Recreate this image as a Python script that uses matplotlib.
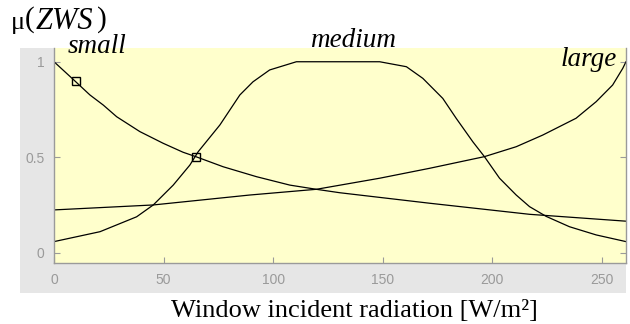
import matplotlib
matplotlib.use("Agg")
import matplotlib.pyplot as plt
from matplotlib.patches import Rectangle

# ---- data ----
small_x = [0, 9.1, 16.4, 22.5, 28.6, 39.2, 49.8, 58.9, 64.7, 77.2, 92.4, 107.6, 119.7,
           130.4, 171.4, 217, 261]
small_y = [1.0, 0.904, 0.826, 0.773, 0.712, 0.634, 0.573, 0.526, 0.503, 0.45, 0.398, 0.354, 0.332,
           0.314, 0.259, 0.201, 0.165]

medium_x = [0, 21, 37.7, 45.3, 54.4, 62, 65.8, 75.7, 84.8, 90.8, 98.4, 110.6, 148.6,
            160.8, 168.3, 177.4, 183.5, 191.1, 196.4, 203.3, 210.9, 217, 224.6, 235.2, 247.4, 261]
medium_y = [0.058, 0.11, 0.188, 0.25, 0.354, 0.459, 0.529, 0.669, 0.826, 0.895, 0.957, 1.0, 1.0,
            0.974, 0.913, 0.808, 0.704, 0.581, 0.503, 0.39, 0.302, 0.241, 0.19, 0.136, 0.093, 0.058]

large_x = [0, 45.3, 89.3, 119.7, 148.6, 171.4, 196.4, 210.9, 223, 238.2, 247.4, 254.9, 259.5, 261]
large_y = [0.224, 0.25, 0.302, 0.332, 0.39, 0.442, 0.503, 0.555, 0.616, 0.704, 0.791, 0.878, 0.965, 1.0]

marker_x = [10, 65]
marker_y = [0.9, 0.5]

x_ticks = [0, 50, 100, 150, 200, 250]
y_ticks = [0, 0.5, 1]
y_ticklabels = ["0", "0.5", "1"]

mf_labels = ["small", "medium", "large"]
x_label = "Window incident radiation [W/m²]"

W, H = 630, 324
fig = plt.figure(figsize=(W / 100, H / 100), dpi=100)

# gray MATLAB-like panel
fig.patches.append(Rectangle((20 / W, 1 - 293 / H), (626 - 20) / W, (293 - 48) / H,
                             transform=fig.transFigure, facecolor="#e6e6e6",
                             edgecolor="none", zorder=0))

ax = fig.add_axes([54 / W, 1 - 263 / H, (626 - 54) / W, (263 - 48) / H])
ax.set_facecolor("#ffffcc")
ax.set_zorder(1)

lc = "black"
lw = 0.9
ax.plot(small_x, small_y, color=lc, lw=lw)
ax.plot(medium_x, medium_y, color=lc, lw=lw)
ax.plot(large_x, large_y, color=lc, lw=lw)
ax.plot(marker_x, marker_y, linestyle="none", marker="s", markersize=5.5,
        markerfacecolor="none", markeredgecolor="black", markeredgewidth=1.0)

ax.set_xlim(0, 261)
ax.set_ylim(-0.054, 1.072)
ax.set_xticks(x_ticks)
ax.set_yticks(y_ticks)
ax.set_yticklabels(y_ticklabels)

gray = "#9a9a9a"
ax.tick_params(axis="both", direction="in", length=4, width=0.8, color=gray,
               labelcolor=gray, labelsize=10, pad=7)
ax.tick_params(axis="y", right=True)
for lab in ax.get_xticklabels() + ax.get_yticklabels():
    lab.set_family("Liberation Sans")

ax.spines["top"].set_visible(False)
for s in ["left", "bottom", "right"]:
    ax.spines[s].set_color(gray)
    ax.spines[s].set_linewidth(1.0)

serif = "Liberation Serif"


def ftext(px, py, s, **kw):
    fig.text(px / W, 1 - py / H, s, family=serif, **kw)


# membership function names
ftext(68, 53, mf_labels[0], fontsize=19.5, style="italic", va="baseline", zorder=5)
ftext(310, 47, mf_labels[1], fontsize=19.5, style="italic", va="baseline", zorder=5)
ftext(561, 66, mf_labels[2], fontsize=19.5, style="italic", va="baseline", zorder=5)

# mu(ZWS)
ftext(11, 29, "μ", fontsize=19, va="baseline")
ftext(25, 27, "(", fontsize=21, va="baseline")
ftext(36, 29, "ZWS", fontsize=22, style="italic", va="baseline")
ftext(97, 27, ")", fontsize=21, va="baseline")

# x label
ftext(354, 317, x_label, fontsize=19, ha="center", va="baseline")

fig.savefig("out.png", dpi=100)
